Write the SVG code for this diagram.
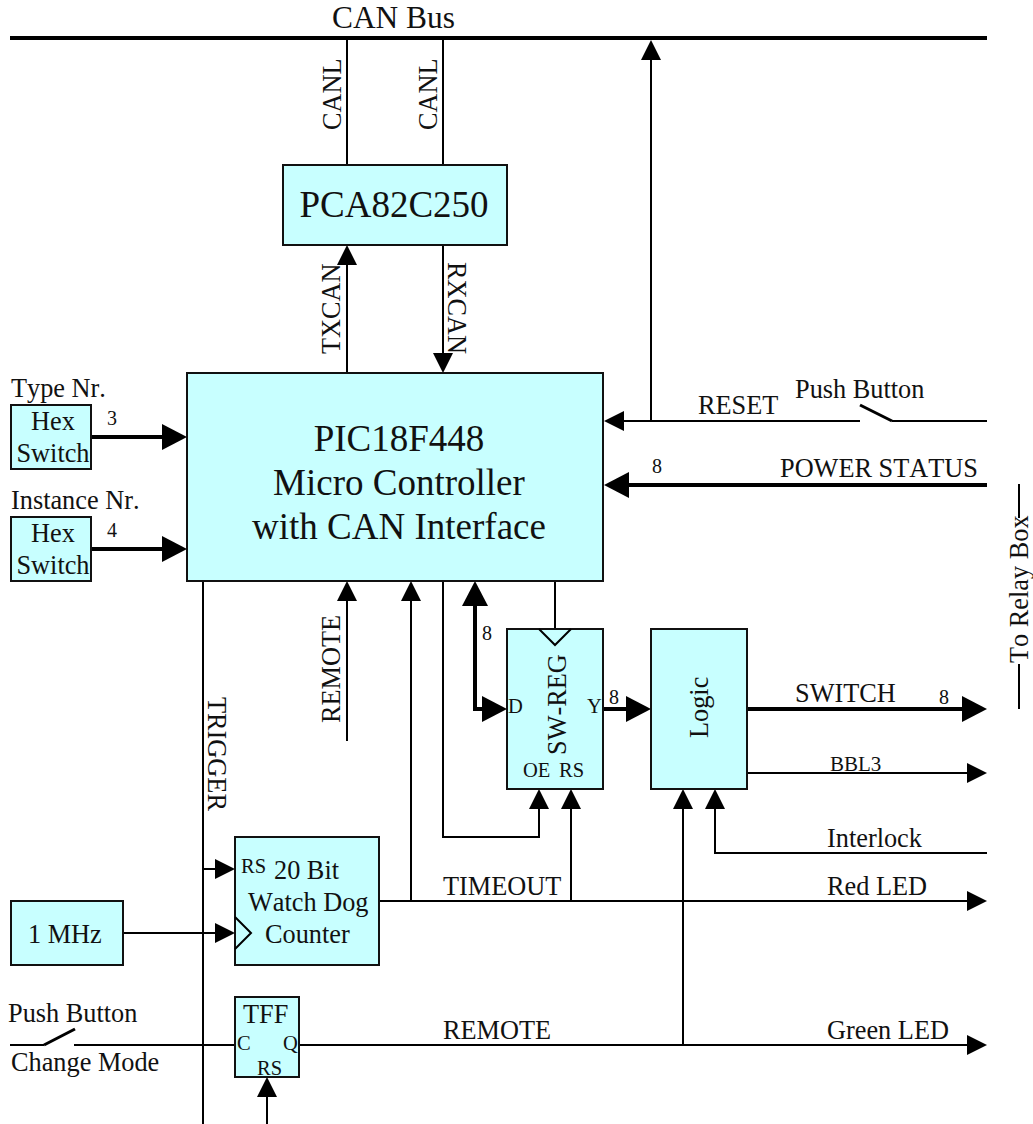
<svg xmlns="http://www.w3.org/2000/svg" width="1033" height="1124" viewBox="0 0 1033 1124">
<style>
text{font-family:"Liberation Serif","Times New Roman",serif;fill:#111;font-kerning:none}
.b{fill:#c8ffff;stroke:#111;stroke-width:2}
.l{fill:none;stroke:#000;stroke-width:2}
.t{fill:none;stroke:#000;stroke-width:4}
.d{fill:none;stroke:#000;stroke-width:3}
.n{font-size:20px}.r{font-size:26.3px}.p{font-size:20.5px}.g{font-size:37px}
.m{text-anchor:middle}
</style>
<defs>
<marker id="a" markerUnits="userSpaceOnUse" markerWidth="20" markerHeight="20" refX="15" refY="10" orient="auto" viewBox="0 0 20 20"><path d="M0 0L20 10L0 20Z" fill="#000"/></marker>
<marker id="at" markerUnits="userSpaceOnUse" markerWidth="25" markerHeight="26" refX="18" refY="13" orient="auto" viewBox="0 0 25 26"><path d="M0 0L25 13L0 26Z" fill="#000"/></marker>
</defs>
<g id="connectors">
<path class="t" d="M10 38H987"/>
<path class="l" d="M347 38V165M443 38V165"/>
<path class="l" d="M347 373V250" marker-end="url(#a)"/>
<path class="l" d="M443 245V368" marker-end="url(#a)"/>
<path class="l" d="M651 421V45" marker-end="url(#a)"/>
<path class="l" d="M860 421H609" marker-end="url(#a)"/>
<path class="d" d="M860 405L892 421"/>
<path class="l" d="M892 421H987"/>
<path class="t" d="M987 485H611" marker-end="url(#at)"/>
<path class="t" d="M91 437H180" marker-end="url(#at)"/>
<path class="t" d="M91 549H180" marker-end="url(#at)"/>
<path class="l" d="M203 581V1124"/>
<path class="l" d="M347 741V586" marker-end="url(#a)"/>
<path class="l" d="M411 901V586" marker-end="url(#a)"/>
<path class="t" d="M475 709V588" marker-end="url(#at)"/>
<path class="t" d="M475 650V709H500" marker-end="url(#at)"/>
<path class="l" d="M555 581V645"/>
<path class="l" d="M443 581V837H539V794" marker-end="url(#a)"/>
<path class="t" d="M603 709H644" marker-end="url(#at)"/>
<path class="t" d="M747 709H980" marker-end="url(#at)"/>
<path class="l" d="M747 773H982" marker-end="url(#a)"/>
<path class="l" d="M987 853H715V794" marker-end="url(#a)"/>
<path class="l" d="M379 901H982" marker-end="url(#a)"/>
<path class="l" d="M571 901V794" marker-end="url(#a)"/>
<path class="l" d="M203 869H230" marker-end="url(#a)"/>
<path class="l" d="M123 933H230" marker-end="url(#a)"/>
<path class="l" d="M299 1045H982" marker-end="url(#a)"/>
<path class="l" d="M683 1045V794" marker-end="url(#a)"/>
<path class="l" d="M10 1045H44"/>
<path class="d" d="M44 1045L75 1029"/>
<path class="l" d="M74 1045H235"/>
<path class="l" d="M267 1124V1082" marker-end="url(#a)"/>
<path class="l" d="M1019 484V518M1019 664V709"/>
</g>
<g id="can-bus"><text x="332" y="28" style="font-size:31.4px">CAN Bus</text></g>
<g id="pca"><rect class="b" x="283" y="165" width="224" height="80"/><text class="g m" x="394" y="217">PCA82C250</text></g>
<g id="pic"><rect class="b" x="187" y="373" width="416" height="208"/>
<text class="g m" x="399" y="451">PIC18F448</text><text class="g m" x="399" y="495">Micro Controller</text><text class="g m" x="399" y="539">with CAN Interface</text></g>
<g id="hex1"><rect class="b" x="11" y="405" width="80" height="64"/><text class="r m" x="53" y="430">Hex</text><text class="r m" x="53" y="462">Switch</text></g>
<g id="hex2"><rect class="b" x="11" y="517" width="80" height="64"/><text class="r m" x="53" y="542">Hex</text><text class="r m" x="53" y="574">Switch</text></g>
<g id="swreg"><rect class="b" x="507" y="629" width="96" height="160"/><path class="l" d="M539 629L555 645L571 629"/>
<text class="r" transform="translate(566 755) rotate(-90)">SW-REG</text>
<text class="p" x="508" y="713">D</text><text class="p" x="587" y="713">Y</text>
<text class="p" x="523" y="777">OE</text><text class="p" x="559" y="777">RS</text></g>
<g id="logic"><rect class="b" x="651" y="629" width="96" height="160"/><text class="r" transform="translate(708 738) rotate(-90)">Logic</text></g>
<g id="wdog"><rect class="b" x="235" y="837" width="144" height="128"/><path class="l" d="M235 917L251 933L235 949"/>
<text class="p" x="241" y="873">RS</text><text class="r" x="274" y="879">20 Bit</text><text class="r" x="248" y="911">Watch Dog</text><text class="r" x="265" y="943">Counter</text></g>
<g id="mhz"><rect class="b" x="11" y="901" width="112" height="64"/><text class="r" x="28" y="943">1 MHz</text></g>
<g id="tff"><rect class="b" x="235" y="997" width="64" height="80"/><text class="r" x="243" y="1023">TFF</text>
<text class="p" x="237" y="1050">C</text><text class="p" x="283" y="1050">Q</text><text class="p" x="257" y="1075">RS</text></g>
<g id="labels">
<g class="r">
<text transform="translate(341 130) rotate(-90)">CANL</text>
<text transform="translate(437 130) rotate(-90)">CANL</text>
<text transform="translate(340 354) rotate(-90)">TXCAN</text>
<text transform="translate(448 262) rotate(90)">RXCAN</text>
<text transform="translate(340 723) rotate(-90)">REMOTE</text>
<text transform="translate(208 697) rotate(90)">TRIGGER</text>
<text transform="translate(1028 663) rotate(-90)">To Relay Box</text>
<text x="698" y="414">RESET</text>
<text x="795" y="398">Push Button</text>
<text x="780" y="477">POWER STATUS</text>
<text x="11" y="397">Type Nr.</text>
<text x="11" y="509">Instance Nr.</text>
<text x="795" y="702">SWITCH</text>
<text x="827" y="847">Interlock</text>
<text x="827" y="895">Red LED</text>
<text x="827" y="1039">Green LED</text>
<text x="443" y="895">TIMEOUT</text>
<text x="443" y="1039">REMOTE</text>
<text x="8" y="1022">Push Button</text>
<text x="11" y="1071">Change Mode</text>
</g>
<g class="n">
<text x="107" y="425">3</text><text x="107" y="537">4</text><text x="652" y="473">8</text>
<text x="482" y="640">8</text><text x="609" y="704">8</text><text x="939" y="704">8</text>
<text x="830" y="771" style="font-size:21px">BBL3</text>
</g>
</g>
</svg>
